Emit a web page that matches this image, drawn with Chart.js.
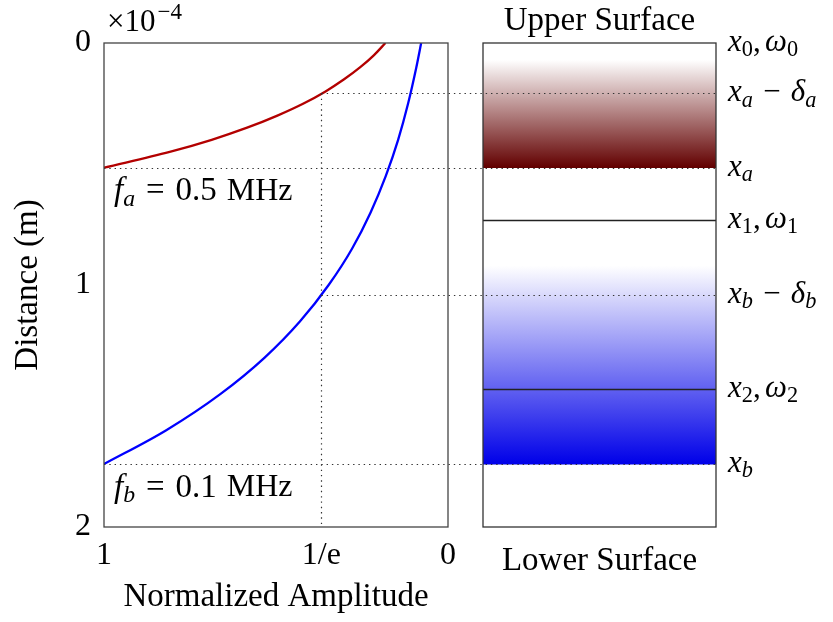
<!DOCTYPE html>
<html>
<head>
<meta charset="utf-8">
<title>Skin depth</title>
<script src="https://cdn.jsdelivr.net/npm/chart.js@4.4.0/dist/chart.umd.min.js"></script>
<style>
  body { margin: 0; background: #fff; }
  #wrap { position: relative; width: 833px; height: 622px; }
  #wrap canvas { position: absolute; left: 0; top: 0; }
</style>
</head>
<body>
<div id="wrap">
  <canvas id="layersChart" width="833" height="622"></canvas>
  <canvas id="decayChart" width="833" height="622"></canvas>
</div>
<script>
// depth (x1e-4 m) and normalized amplitude along each curve
const depthA = [0, 0.05, 0.10, 0.15, 0.20, 0.25, 0.30, 0.35, 0.40, 0.45, 0.515];
const ampA = [0.182, 0.215, 0.255, 0.302, 0.356, 0.420, 0.496, 0.584, 0.687, 0.809, 1.0];
const depthB = [0, 0.10, 0.25, 0.40, 0.55, 0.70, 0.85, 1.00, 1.15, 1.30, 1.45, 1.60, 1.74];
const ampB = [0.078, 0.092, 0.116, 0.145, 0.181, 0.225, 0.279, 0.347, 0.430, 0.533, 0.661, 0.819, 1.0];

// axis ticks
const xTicks = [1, 0.368, 0];
const xTickLabels = ["1", "1/e", "0"];
const yTicks = [0, 1, 2];

// interface depths shown on the layer column
const levelValues = [0, 0.208, 0.515, 0.73, 1.04, 1.43, 1.74];
const levelLabels = ["x_0,ω_0", "x_a − δ_a", "x_a", "x_1,ω_1", "x_b − δ_b", "x_2,ω_2", "x_b"];
const interfaceLines = [0.73, 1.43];

// penetration bands (from white to full colour)
const bandA = [0.07, 0.515];
const bandB = [0.92, 1.74];

// dotted guides: depth, start amplitude
const guideDepths = [0.208, 0.515, 1.04, 1.74];
const guideStarts = [0.368, 1, 0.368, 1];

const SERIF = "'Liberation Serif', 'Times New Roman', serif";
const textFont = { family: SERIF, size: 33 };
const tickFont = { family: SERIF, size: 32 };

// draws a small math string: letters italic, "_c" as subscript
function drawMath(c, str, x, y, size) {
  c.save();
  c.textBaseline = "middle";
  c.textAlign = "left";
  let i = 0;
  while (i < str.length) {
    let ch = str[i];
    let sub = false;
    if (ch === "_") { sub = true; i++; ch = str[i]; }
    const italic = /[a-zωδ]/.test(ch);
    const s = sub ? size * 0.72 : size;
    c.font = (italic ? "italic " : "") + s + "px " + SERIF;
    c.fillText(ch, x, sub ? y + size * 0.24 : y);
    x += c.measureText(ch).width;
    if (ch === " ") x += size * 0.08;
    if (ch === ",") x += size * 0.14;
    i++;
  }
  c.restore();
  return x;
}

function bandGradient(context, band, color) {
  const chart = context.chart;
  if (!chart.chartArea) return color;
  const y = chart.scales.y;
  const g = chart.ctx.createLinearGradient(0, y.getPixelForValue(band[0]), 0, y.getPixelForValue(band[1]));
  g.addColorStop(0, "rgba(255,255,255,1)");
  g.addColorStop(1, color);
  return g;
}

const layerDecor = {
  id: "layerDecor",
  afterDatasetsDraw(chart) {
    const { ctx, chartArea: a, scales } = chart;
    ctx.save();
    ctx.strokeStyle = "#222";
    ctx.lineWidth = 1.5;
    interfaceLines.forEach(v => {
      const py = Math.round(scales.y.getPixelForValue(v)) + 0.5;
      ctx.beginPath();
      ctx.moveTo(a.left, py);
      ctx.lineTo(a.right, py);
      ctx.stroke();
    });
    ctx.strokeStyle = "#333";
    ctx.lineWidth = 1.3;
    ctx.strokeRect(a.left, a.top, a.right - a.left, a.bottom - a.top);
    ctx.fillStyle = "#000";
    levelValues.forEach((v, i) => {
      drawMath(ctx, levelLabels[i], a.right + 12, scales.y.getPixelForValue(v), 31);
    });
    ctx.restore();
  }
};

const layersChart = new Chart(document.getElementById("layersChart"), {
  type: "bar",
  data: {
    labels: ["layers"],
    datasets: [
      { data: [bandA], backgroundColor: c => bandGradient(c, bandA, "rgb(98,0,0)"), grouped: false, barPercentage: 1, categoryPercentage: 1, borderWidth: 0 },
      { data: [bandB], backgroundColor: c => bandGradient(c, bandB, "rgb(0,0,232)"), grouped: false, barPercentage: 1, categoryPercentage: 1, borderWidth: 0 },
    ],
  },
  options: {
    responsive: false,
    animation: false,
    layout: { padding: { left: 483, right: 117, top: 0, bottom: 0 } },
    plugins: { legend: { display: false }, tooltip: { enabled: false } },
    scales: {
      x: {
        position: "bottom",
        grid: { display: false, drawTicks: false },
        border: { display: false },
        ticks: { display: false },
        title: { display: true, text: "Lower Surface", font: textFont, color: "#000", padding: { top: 0, bottom: 41 } },
        afterFit: s => { s.height = 95; },
      },
      xTop: {
        type: "category",
        axis: "x",
        position: "top",
        grid: { display: false, drawTicks: false },
        border: { display: false },
        ticks: { display: false },
        title: { display: true, text: "Upper Surface", font: textFont, color: "#000", padding: { top: 2, bottom: 0 } },
        afterFit: s => { s.height = 43; },
      },
      y: { display: false, reverse: true, min: 0, max: 2 },
    },
  },
  plugins: [layerDecor],
});

const decayDecor = {
  id: "decayDecor",
  afterDraw(chart) {
    const { ctx, chartArea: a, scales } = chart;
    const xs = scales.x, ys = scales.y;
    const farRight = layersChart.chartArea.right;
    ctx.save();
    // dotted guides
    ctx.strokeStyle = "#333";
    ctx.lineWidth = 1.2;
    ctx.setLineDash([1.4, 3.9]);
    guideDepths.forEach((d, i) => {
      const py = Math.round(ys.getPixelForValue(d)) + 0.5;
      ctx.beginPath();
      ctx.moveTo(xs.getPixelForValue(guideStarts[i]), py);
      ctx.lineTo(farRight, py);
      ctx.stroke();
    });
    const px = Math.round(xs.getPixelForValue(xTicks[1])) + 0.5;
    ctx.beginPath();
    ctx.moveTo(px, ys.getPixelForValue(guideDepths[0]));
    ctx.lineTo(px, a.bottom);
    ctx.stroke();
    ctx.setLineDash([]);
    // frame
    ctx.strokeStyle = "#444";
    ctx.lineWidth = 1.3;
    ctx.strokeRect(a.left, a.top, a.right - a.left, a.bottom - a.top);
    // frequency notes
    ctx.fillStyle = "#000";
    const notes = [["f_a = 0.5", guideDepths[1]], ["f_b = 0.1", guideDepths[3]]];
    notes.forEach(([txt, d]) => {
      const cy = ys.getPixelForValue(d) + 24;
      const e = drawMath(ctx, txt, a.left + 10, cy, 33);
      ctx.font = "32px " + SERIF;
      ctx.textBaseline = "middle";
      ctx.fillText("MHz", e + 10, cy);
    });
    // axis multiplier
    ctx.textBaseline = "alphabetic";
    ctx.font = "31px " + SERIF;
    ctx.fillText("×10", a.left + 3, 31);
    const w = ctx.measureText("×10").width;
    ctx.font = "23px " + SERIF;
    ctx.fillText("−4", a.left + 5 + w, 19);
    ctx.restore();
  }
};

new Chart(document.getElementById("decayChart"), {
  type: "scatter",
  data: {
    datasets: [
      {
        label: "f_a = 0.5 MHz",
        data: depthA.map((d, i) => ({ x: ampA[i], y: d })),
        showLine: true,
        borderColor: "#b30000",
        borderWidth: 2.3,
        pointRadius: 0,
        cubicInterpolationMode: "monotone",
      },
      {
        label: "f_b = 0.1 MHz",
        data: depthB.map((d, i) => ({ x: ampB[i], y: d })),
        showLine: true,
        borderColor: "#0000ff",
        borderWidth: 2.3,
        pointRadius: 0,
        cubicInterpolationMode: "monotone",
      },
    ],
  },
  options: {
    responsive: false,
    animation: false,
    layout: { padding: { left: 0, right: 385, top: 43, bottom: 0 } },
    plugins: { legend: { display: false }, tooltip: { enabled: false } },
    scales: {
      x: {
        type: "linear",
        reverse: true,
        min: 0,
        max: 1,
        afterBuildTicks: s => { s.ticks = xTicks.map(v => ({ value: v })); },
        ticks: {
          callback: v => xTickLabels[xTicks.indexOf(v)],
          font: tickFont,
          color: "#000",
          padding: 9,
          maxRotation: 0,
          autoSkip: false,
        },
        grid: { display: false, drawTicks: false },
        border: { display: false },
        title: { display: true, text: "Normalized Amplitude", font: textFont, color: "#000", padding: { top: 0, bottom: 5 } },
        afterFit: s => { s.height = 95; },
      },
      y: {
        type: "linear",
        reverse: true,
        min: 0,
        max: 2,
        afterBuildTicks: s => { s.ticks = yTicks.map(v => ({ value: v })); },
        ticks: { font: tickFont, color: "#000", padding: 13 },
        grid: { display: false, drawTicks: false },
        border: { display: false },
        title: { display: true, text: "Distance (m)", font: textFont, color: "#000", padding: { top: 9, bottom: 0 } },
        afterFit: s => { s.width = 104; },
      },
    },
  },
  plugins: [decayDecor],
});
</script>
</body>
</html>
